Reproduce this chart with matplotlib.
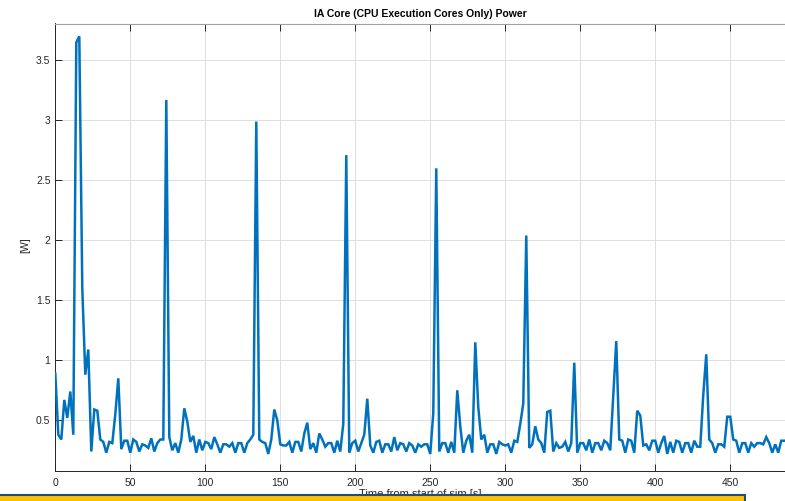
import numpy as np
import matplotlib
matplotlib.use('Agg')
import matplotlib.pyplot as plt
import matplotlib.ticker as mticker
from matplotlib.patches import Rectangle

# ── STYLE ────────────────────────────────────────────────────────────────
LINE   = '#0072BD'
GRID   = '#dedede'
AXIS   = '#262626'
plt.rcParams['font.family'] = ['Liberation Sans', 'DejaVu Sans']

# ── DATA (IA core power, one sample every 2 s) ───────────────────────────
sample_period = 2.0  # s
power_w = [
    0.89, 0.38, 0.34, 0.67, 0.52, 0.74, 0.38, 3.65, 3.70, 1.60,   # 0-18
    0.88, 1.09, 0.24, 0.59, 0.58, 0.34, 0.32, 0.23, 0.32, 0.31,   # 20-38
    0.55, 0.85, 0.26, 0.33, 0.33, 0.23, 0.34, 0.32, 0.24, 0.30,   # 40-58
    0.29, 0.27, 0.35, 0.24, 0.31, 0.34, 0.34, 3.17, 0.36, 0.25,   # 60-78
    0.31, 0.23, 0.34, 0.60, 0.49, 0.32, 0.37, 0.23, 0.34, 0.25,   # 80-98
    0.32, 0.31, 0.26, 0.36, 0.30, 0.23, 0.30, 0.30, 0.28, 0.31,   # 100-118
    0.23, 0.31, 0.31, 0.23, 0.31, 0.34, 0.38, 2.99, 0.34, 0.32,   # 120-138
    0.31, 0.22, 0.34, 0.59, 0.50, 0.30, 0.29, 0.29, 0.32, 0.23,   # 140-158
    0.32, 0.32, 0.24, 0.39, 0.48, 0.26, 0.31, 0.23, 0.39, 0.34,   # 160-178
    0.28, 0.31, 0.31, 0.23, 0.33, 0.24, 0.47, 2.71, 0.23, 0.31,   # 180-198
    0.33, 0.24, 0.31, 0.38, 0.68, 0.29, 0.23, 0.32, 0.33, 0.23,   # 200-218
    0.30, 0.30, 0.24, 0.36, 0.25, 0.31, 0.30, 0.24, 0.31, 0.29,   # 220-238
    0.23, 0.30, 0.28, 0.30, 0.30, 0.22, 0.56, 2.60, 0.24, 0.31,   # 240-258
    0.31, 0.23, 0.32, 0.23, 0.75, 0.45, 0.23, 0.33, 0.38, 0.23,   # 260-278
    1.15, 0.61, 0.34, 0.38, 0.23, 0.30, 0.30, 0.22, 0.32, 0.30,   # 280-298
    0.29, 0.30, 0.23, 0.33, 0.32, 0.47, 0.64, 2.04, 0.27, 0.30,   # 300-318
    0.45, 0.34, 0.31, 0.23, 0.57, 0.58, 0.24, 0.31, 0.27, 0.28,   # 320-338
    0.32, 0.24, 0.31, 0.98, 0.23, 0.31, 0.31, 0.25, 0.34, 0.23,   # 340-358
    0.31, 0.31, 0.25, 0.33, 0.31, 0.25, 0.70, 1.16, 0.34, 0.33,   # 360-378
    0.23, 0.34, 0.33, 0.23, 0.58, 0.54, 0.29, 0.30, 0.25, 0.33,   # 380-398
    0.33, 0.23, 0.31, 0.37, 0.22, 0.32, 0.23, 0.33, 0.32, 0.23,   # 400-418
    0.31, 0.31, 0.23, 0.33, 0.28, 0.28, 0.71, 1.05, 0.34, 0.31,   # 420-438
    0.23, 0.30, 0.30, 0.28, 0.53, 0.53, 0.34, 0.33, 0.23, 0.31,   # 440-458
    0.31, 0.23, 0.31, 0.28, 0.31, 0.31, 0.30, 0.36, 0.31, 0.23,   # 460-478
    0.30, 0.23, 0.33, 0.33,                                       # 480-486
]
time_s = np.arange(len(power_w)) * sample_period

x_ticks = [0, 50, 100, 150, 200, 250, 300, 350, 400, 450]
y_ticks = [0.5, 1, 1.5, 2, 2.5, 3, 3.5]

# ── PLOT ─────────────────────────────────────────────────────────────────
fig = plt.figure(figsize=(7.85, 5.01), dpi=100, facecolor='white')
ax = fig.add_axes([55.3 / 785, 30 / 501, (785 - 55.3) / 785, 447.5 / 501])

ax.plot(time_s, power_w, color=LINE, lw=1.8, solid_joinstyle='miter', zorder=3)

ax.set_xlim(0, 486.5)
ax.set_ylim(0.0775, 3.807)
ax.set_xticks(x_ticks)
ax.set_yticks(y_ticks)
ax.yaxis.set_major_formatter(mticker.FormatStrFormatter('%g'))
ax.grid(True, color=GRID, lw=0.7, zorder=0)
ax.set_axisbelow(True)

ax.tick_params(direction='in', length=5, width=0.7, colors=AXIS,
               labelsize=7.5, top=True, right=False)
ax.tick_params(axis='x', pad=5)
ax.tick_params(axis='y', pad=3.5)
for side in ['left', 'bottom']:
    ax.spines[side].set_color(AXIS)
    ax.spines[side].set_linewidth(0.7)
ax.spines['top'].set_color('#a0a0a0')
ax.spines['top'].set_linewidth(0.8)
ax.spines['right'].set_visible(False)

ax.set_title('IA Core (CPU Execution Cores Only) Power', fontsize=7.5,
             fontweight='bold', color='black', pad=5)
ax.set_xlabel('Time from start of sim [s]', fontsize=8, color=AXIS)
ax.xaxis.set_label_coords(0.5, -0.040)
ax.set_ylabel('[W]', fontsize=7.5, color=AXIS)
ax.yaxis.set_label_coords(-0.0347, 0.505)

# banner strip along the bottom edge (covers part of the x label)
fig.patches.append(Rectangle((-0.01, -0.02), 0.959, 0.031,
                             transform=fig.transFigure, facecolor='#FFC000',
                             edgecolor='#1F4E79', lw=1.5, zorder=10))

plt.savefig('out.png', dpi=100, facecolor='white')
